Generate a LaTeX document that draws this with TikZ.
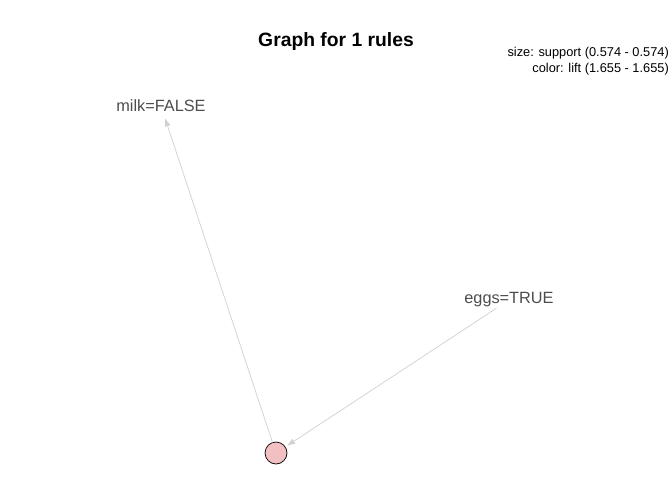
\documentclass[tikz,border=0pt]{standalone}
\usepackage{fontspec}
\setmainfont{Liberation Sans}
\usepackage{xcolor}
\usepackage{tikz}
\usetikzlibrary{arrows.meta, positioning}

\definecolor{edgegray}{HTML}{D0D0D0}
\definecolor{labelgray}{HTML}{4D4D4D}
\definecolor{rulepink}{HTML}{F2C0C2}

\begin{document}
\begin{tikzpicture}[
  x=1pt, y=1pt,
  item/.style={text=labelgray, font=\fontsize{16.3}{18}\selectfont, inner sep=0pt},
  rule/.style={circle, draw=black, line width=0.7pt, fill=rulepink, minimum size=22pt, inner sep=0pt},
  legend/.style={font=\fontsize{12.8}{14}\selectfont, anchor=east, inner sep=0pt},
  edge/.style={-{Latex[length=8pt, width=6pt]}, draw=edgegray, line width=0.7pt}
]
  \useasboundingbox (0,0) rectangle (672,480);

  % title and legend
  \node[font=\bfseries\fontsize{19.3}{22}\selectfont] (title) at (336,438) {Graph for 1 rules};
  \node[legend] (leg1) at (669,427) {size: support (0.574 - 0.574)};
  \node[legend] (leg2) at (669,411) {color: lift (1.655 - 1.655)};

  % items and rule
  \node[item] (milk) at (161,374) {milk=FALSE};
  \node[item] (eggs) at (509,180) {eggs=TRUE};
  \node[rule] (r1) at (276,27) {};

  % edges
  \draw[edge, shorten >=13pt] (r1) -- (milk.center);
  \draw[edge, shorten <=15pt, shorten >=2pt] (eggs.center) -- (r1);

\end{tikzpicture}
\end{document}
